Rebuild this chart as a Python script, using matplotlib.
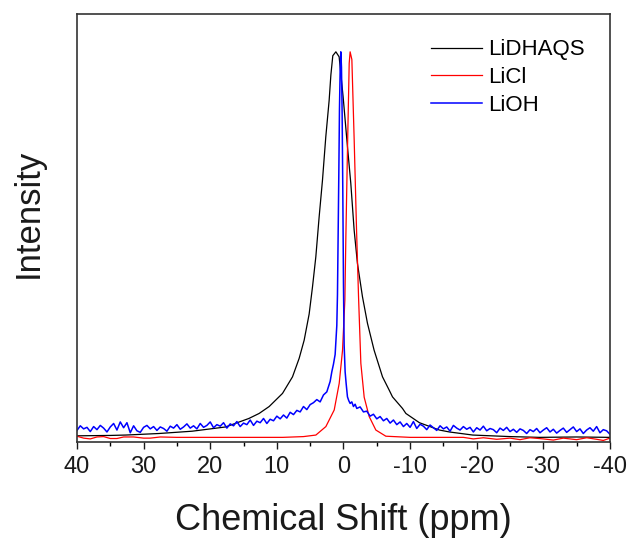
import matplotlib
matplotlib.use('Agg')
from matplotlib import pyplot as plt
from matplotlib.ticker import MultipleLocator

plt.rcParams['font.family'] = ['Liberation Sans', 'DejaVu Sans']
plt.rcParams['axes.unicode_minus'] = False

# LiDHAQS (black) - chemical shift (ppm) and normalised intensity
dhaqs_ppm = [40, 35, 32.7, 27.7, 22.7, 17.7, 14.2, 12.66, 11.15, 9.15, 7.65, 6.65,
             5.9, 5.15, 4.65, 4.15, 3.65, 3.15, 2.65, 2.15, 1.89, 1.6, 1.14, 0.65,
             0.05, -0.6, -1.1, -1.6, -2.1, -2.85, -3.6, -4.6, -5.86, -6.85, -7.36,
             -8.86, -9.37, -11.4, -14.4, -15.9, -19.4, -25, -29.4, -35, -40]
dhaqs_int = [0.004, 0.005, 0.006, 0.010, 0.016, 0.027, 0.049, 0.062, 0.080, 0.114,
             0.157, 0.205, 0.252, 0.320, 0.390, 0.468, 0.572, 0.667, 0.780, 0.874,
             0.940, 0.990, 1.000, 0.987, 0.883, 0.754, 0.659, 0.538, 0.451, 0.365,
             0.296, 0.226, 0.157, 0.123, 0.105, 0.075, 0.062, 0.038, 0.019, 0.014,
             0.006, 0.002, 0.000, 0.001, 0.000]

# LiCl (red)
licl_ppm = [40, 39, 38, 37, 36, 35, 34, 33, 31.5, 30, 29, 27.5, 25, 15, 9.1, 6,
            4.14, 2.64, 1.39, 0.64, 0.14, -0.21, -0.36, -0.61, -0.86, -1.0, -1.26,
            -1.61, -1.96, -2.26, -2.61, -3.11, -3.86, -4.86, -6.36, -10, -18, -19.5,
            -21, -23, -25, -26.5, -28, -30, -31.5, -33, -35, -36.5, -38, -39, -40]
licl_int = [0.003, -0.002, -0.004, 0.001, 0.002, -0.003, -0.003, 0.001, 0.001,
            -0.002, -0.002, 0.001, 0.000, 0.000, 0.000, 0.002, 0.006, 0.028, 0.071,
            0.140, 0.226, 0.356, 0.520, 0.754, 0.970, 1.000, 0.980, 0.770, 0.540,
            0.366, 0.192, 0.104, 0.054, 0.019, 0.003, 0.000, 0.000, -0.004, -0.001,
            -0.005, -0.002, -0.006, -0.001, -0.004, -0.007, -0.002, -0.006, -0.001,
            -0.005, -0.008, -0.002]

# LiOH (blue)
lioh_ppm = [40.0, 39.5, 39.0, 38.5, 38.0, 37.5, 37.0, 36.5, 36.0, 35.5, 35.0, 34.5,
            34.0, 33.5, 33.0, 32.5, 32.0, 31.5, 31.0, 30.5, 30.0, 29.5, 29.0, 28.5,
            28.0, 27.5, 27.0, 26.5, 26.0, 25.5, 25.0, 24.5, 24.0, 23.5, 23.0, 22.5,
            22.0, 21.5, 21.0, 20.5, 20.0, 19.5, 19.0, 18.5, 18.0, 17.5, 17.0, 16.5,
            16.0, 15.5, 15.0, 14.5, 14.0, 13.5, 13.0, 12.5, 12.0, 11.5, 11.0, 10.5,
            10.0, 9.5, 9.0, 8.5, 8.0, 7.5, 7.0, 6.5, 6.0, 5.5, 5.0, 4.5, 4.0, 3.5,
            3.0, 2.5, 2.0, 1.75, 1.5, 1.25, 1.0, 0.9, 0.8, 0.7, 0.6, 0.5, 0.4, 0.3,
            0.2, 0.1, 0.0, -0.1, -0.25, -0.4, -0.6, -0.8, -1.0, -1.25, -1.5, -1.75,
            -2.0, -2.5, -3.0, -3.5, -4.0, -4.5, -5.0, -5.5, -6.0, -6.5, -7.0, -7.5,
            -8.0, -8.5, -9.0, -9.5, -10.0, -10.5, -11.0, -11.5, -12.0, -12.5, -13.0,
            -13.5, -14.0, -14.5, -15.0, -15.5, -16.0, -16.5, -17.0, -17.5, -18.0,
            -18.5, -19.0, -19.5, -20.0, -20.5, -21.0, -21.5, -22.0, -22.5, -23.0,
            -23.5, -24.0, -24.5, -25.0, -25.5, -26.0, -26.5, -27.0, -27.5, -28.0,
            -28.5, -29.0, -29.5, -30.0, -30.5, -31.0, -31.5, -32.0, -32.5, -33.0,
            -33.5, -34.0, -34.5, -35.0, -35.5, -36.0, -36.5, -37.0, -37.5, -38.0,
            -38.5, -39.0, -39.5, -40.0]
lioh_int = [0.018, 0.030, 0.022, 0.026, 0.015, 0.028, 0.020, 0.031, 0.024, 0.014,
            0.027, 0.036, 0.019, 0.040, 0.025, 0.038, 0.012, 0.030, 0.017, 0.013,
            0.026, 0.031, 0.022, 0.028, 0.018, 0.027, 0.023, 0.016, 0.029, 0.024,
            0.033, 0.021, 0.027, 0.035, 0.024, 0.030, 0.022, 0.036, 0.026, 0.031,
            0.040, 0.025, 0.033, 0.029, 0.038, 0.024, 0.035, 0.030, 0.041, 0.028,
            0.037, 0.033, 0.045, 0.031, 0.042, 0.038, 0.049, 0.036, 0.047, 0.043,
            0.055, 0.048, 0.058, 0.050, 0.065, 0.059, 0.070, 0.066, 0.080, 0.072,
            0.085, 0.090, 0.098, 0.092, 0.110, 0.118, 0.145, 0.170, 0.190, 0.215,
            0.290, 0.370, 0.520, 0.680, 0.850, 0.950, 1.000, 0.960, 0.840, 0.640,
            0.400, 0.240, 0.170, 0.140, 0.105, 0.095, 0.088, 0.092, 0.080, 0.086,
            0.075, 0.079, 0.066, 0.068, 0.055, 0.060, 0.048, 0.054, 0.043, 0.049,
            0.037, 0.045, 0.033, 0.040, 0.028, 0.036, 0.026, 0.041, 0.023, 0.034,
            0.029, 0.020, 0.032, 0.025, 0.018, 0.030, 0.022, 0.027, 0.016, 0.031,
            0.024, 0.019, 0.028, 0.021, 0.026, 0.014, 0.025, 0.019, 0.029, 0.017,
            0.023, 0.020, 0.012, 0.024, 0.018, 0.026, 0.015, 0.021, 0.013, 0.022,
            0.018, 0.010, 0.020, 0.015, 0.023, 0.012, 0.019, 0.025, 0.014, 0.021,
            0.011, 0.018, 0.024, 0.013, 0.020, 0.027, 0.015, 0.022, 0.010, 0.019,
            0.025, 0.016, 0.028, 0.012, 0.020, 0.017, 0.008]


fig = plt.figure(figsize=(6.33, 5.40), dpi=100)
ax = fig.add_axes([0.1216, 0.1815, 0.842, 0.7925])

ax.plot(dhaqs_ppm, dhaqs_int, color='black', lw=0.9, label='LiDHAQS')
ax.plot(licl_ppm, licl_int, color='#ff0000', lw=0.9, label='LiCl')
ax.plot(lioh_ppm, lioh_int, color='#0000ff', lw=1.1, label='LiOH')

ax.set_xlim(40, -40)
ax.set_ylim(-0.012, 1.098)
ax.xaxis.set_major_locator(MultipleLocator(10))
ax.xaxis.set_minor_locator(MultipleLocator(5))
ax.set_yticks([])
ax.tick_params(axis='x', which='major', direction='out', length=5, width=1.0,
               labelsize=17, colors='#1a1a1a', pad=5)
ax.tick_params(axis='x', which='minor', direction='out', length=3, width=1.0)
for s in ax.spines.values():
    s.set_linewidth(1.2)
    s.set_color('#333333')

ax.set_xlabel('Chemical Shift (ppm)', fontsize=26, color='#1a1a1a', labelpad=18)
ax.set_ylabel('Intensity', fontsize=25, color='#1a1a1a', labelpad=23)
ax.yaxis.label.set_y(0.535)

ax.legend(loc='upper left', bbox_to_anchor=(0.6636, 0.941), frameon=False,
          fontsize=16, handlelength=2.3, handletextpad=0.3, labelspacing=0.3,
          borderpad=0, borderaxespad=0)

plt.savefig('out.png', dpi=100)
